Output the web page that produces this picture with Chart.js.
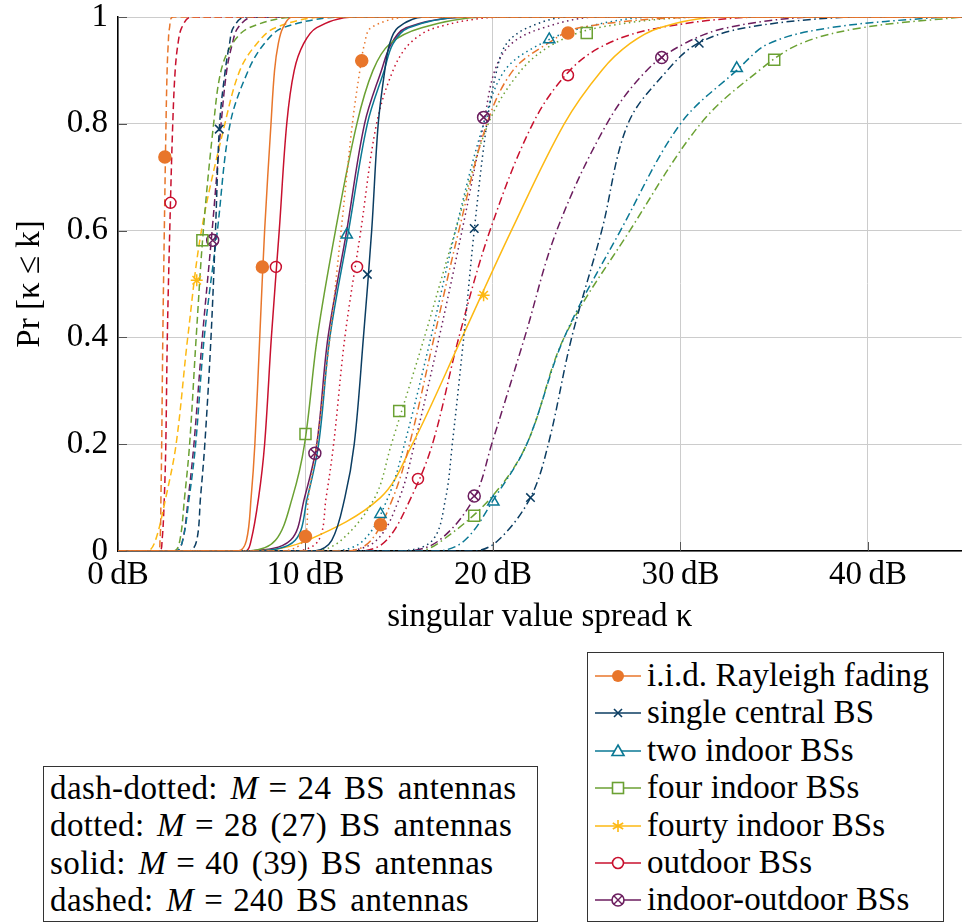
<!DOCTYPE html>
<html>
<head>
<meta charset="utf-8">
<script src="https://cdn.jsdelivr.net/npm/chart.js@4.4.1/dist/chart.umd.min.js"></script>
<style>
  body { margin: 0; background: #fff; width: 971px; height: 924px; position: relative; overflow: hidden;
         font-family: "Liberation Serif", "Times New Roman", serif; color: #000; }
  #plot { position: absolute; left: 0; top: 0; }
  .box { position: absolute; border: 1px solid #333; background: #fff; font-size: 33px; box-sizing: border-box; }
  .row { height: 37.4px; line-height: 37.4px; white-space: nowrap; position: relative; }
  .row svg { position: absolute; left: 7px; top: 8px; }
  .row .lbl { position: absolute; left: 59px; }
  .eq { margin: 0 10px; }
  #styles { left: 43px; top: 766px; width: 495px; height: 156px; padding: 3px 0 0 6px;
            letter-spacing: 0.4px; word-spacing: 4px; }
  #legend { left: 587px; top: 652px; width: 357px; height: 270px; padding: 4px 0 0 0; letter-spacing: 0.1px; }
</style>
</head>
<body>
<canvas id="plot" width="971" height="650"></canvas>
<div class="box" id="styles">
  <div class="row">dash-dotted: <i>M</i><span class="eq">=</span>24 BS antennas</div>
  <div class="row">dotted: <i>M</i><span class="eq">=</span>28 (27) BS antennas</div>
  <div class="row">solid: <i>M</i><span class="eq">=</span>40 (39) BS antennas</div>
  <div class="row">dashed: <i>M</i><span class="eq">=</span>240 BS antennas</div>
</div>
<div class="box" id="legend"></div>
<script>
// probability levels at which the x position (dB) of every curve was read
const levels = [0, 0.02, 0.1, 0.2, 0.4, 0.6, 0.8, 0.9, 0.95, 0.98, 1];

// dashed: M = 240
const iidDashed     = [2.10, 2.24, 2.29, 2.33, 2.39, 2.47, 2.56, 2.62, 2.68, 2.75, 2.95];
const singleDashed  = [3.80, 4.20, 4.40, 4.63, 4.96, 5.20, 5.42, 5.72, 5.95, 6.15, 6.80];
const twoDashed     = [3.10, 3.45, 3.80, 4.14, 4.60, 5.30, 5.98, 6.95, 7.80, 8.80, 12.0];
const fourDashed    = [3.00, 3.30, 3.55, 3.82, 4.17, 4.55, 5.10, 5.50, 6.10, 7.00, 9.50];
const fourtyDashed  = [1.60, 2.00, 2.55, 3.10, 3.72, 4.45, 5.70, 6.50, 7.40, 8.40, 11.0];
const outdoorDashed = [2.20, 2.35, 2.47, 2.55, 2.63, 2.76, 2.92, 3.05, 3.20, 3.40, 3.90];
const mixedDashed   = [3.10, 3.45, 3.75, 4.05, 4.50, 5.02, 5.50, 5.80, 6.10, 6.40, 7.20];

// solid: M = 40 (39)
const iidSolid      = [6.40, 6.85, 7.10, 7.30, 7.56, 7.82, 8.16, 8.35, 8.55, 8.80, 9.30];
const singleSolid   = [10.5, 11.4, 12.1, 12.6, 13.09, 13.53, 13.88, 14.23, 14.49, 14.93, 16.3];
const twoSolid      = [7.50, 9.45, 10.1, 10.7, 11.3, 12.3, 13.3, 14.2, 14.67, 15.5, 18.5];
const fourSolid     = [7.00, 8.40, 9.30, 9.95, 10.63, 11.6, 12.74, 13.6, 14.5, 16.2, 19.5];
const fourtySolid   = [7.50, 10.1, 14.0, 15.7, 18.35, 20.98, 23.8, 25.8, 27.3, 28.9, 32.0];
const outdoorSolid  = [6.80, 7.10, 7.50, 7.82, 8.18, 8.60, 9.00, 9.40, 9.90, 10.6, 12.5];
const mixedSolid    = [7.00, 9.20, 9.95, 10.6, 11.2, 12.2, 13.15, 14.05, 14.58, 15.37, 18.5];

// dotted: M = 28 (27)
const iidDotted     = [8.80, 9.90, 10.15, 10.6, 11.3, 11.9, 12.5, 12.9, 13.15, 13.5, 15.5];
const singleDotted  = [15.0, 16.77, 17.48, 17.83, 18.44, 19.0, 19.67, 20.2, 20.72, 21.86, 24.0];
const twoDotted     = [11.5, 13.1, 14.4, 15.28, 16.69, 18.0, 19.5, 20.63, 22.56, 24.8, 28.5];
const fourDotted    = [10.5, 11.9, 13.7, 14.58, 16.34, 18.0, 19.75, 21.5, 23.26, 25.6, 31.0];
const outdoorDotted = [9.50, 10.7, 11.1, 11.5, 12.1, 12.95, 13.79, 14.67, 15.55, 16.95, 20.5];
const mixedDotted   = [12.0, 13.79, 15.02, 15.81, 17.13, 18.35, 19.5, 20.1, 20.98, 22.7, 25.5];

// dash-dotted: M = 24
const iidDashDot     = [12.3, 13.5, 14.67, 15.55, 16.86, 18.18, 19.67, 21.07, 22.9, 24.6, 31.0];
const singleDashDot  = [19.0, 20.28, 22.0, 22.95, 24.2, 25.8, 27.2, 29.3, 30.9, 33.5, 39.0];
const twoDashDot     = [17.0, 18.5, 20.1, 21.8, 23.8, 26.8, 30.0, 33.0, 34.7, 38.0, 44.0];
const fourDashDot    = [16.0, 17.3, 19.9, 21.8, 23.8, 27.3, 31.07, 34.2, 36.4, 39.7, 45.0];
const outdoorDashDot = [13.0, 14.32, 15.63, 16.77, 18.18, 19.84, 22.12, 24.1, 26.1, 28.9, 34.0];
const mixedDashDot   = [15.4, 17.13, 19.0, 19.93, 21.69, 23.4, 26.07, 28.2, 30.2, 32.5, 37.0];

// marker positions [dB, probability]
const marks = {
  iidDashed: [[2.5, 0.738]], iidSolid: [[7.7, 0.532]],
  iidDotted: [[10.0, 0.027], [13.0, 0.918]], iidDashDot: [[14.0, 0.049], [24.0, 0.97]],
  singleDashed: [[5.4, 0.79]], singleSolid: [[13.3, 0.518]],
  singleDotted: [[19.0, 0.604]], singleDashDot: [[22.0, 0.10], [31.0, 0.951]],
  twoSolid: [[12.2, 0.592]], twoDotted: [[14.0, 0.069], [23.0, 0.958]],
  twoDashDot: [[20.02, 0.092], [33.0, 0.904]],
  fourDashed: [[4.5, 0.582]], fourSolid: [[10.0, 0.219]],
  fourDotted: [[15.0, 0.262], [25.0, 0.97]], fourDashDot: [[19.0, 0.066], [35.0, 0.92]],
  fourtyDashed: [[4.2, 0.507]], fourtySolid: [[19.5, 0.479]],
  outdoorDashed: [[2.8, 0.652]], outdoorSolid: [[8.42, 0.532]],
  outdoorDotted: [[12.75, 0.532]], outdoorDashDot: [[16.0, 0.135], [24.0, 0.891]],
  mixedDashed: [[5.05, 0.582]], mixedSolid: [[10.5, 0.183]],
  mixedDotted: [[19.5, 0.812]], mixedDashDot: [[19.0, 0.103], [29.0, 0.924]]
};

const scenarios = [
  { key: 'iid', label: 'i.i.d. Rayleigh fading', color: '#E8762B', mark: 'dot' },
  { key: 'single', label: 'single central BS', color: '#0B3D62', mark: 'cross' },
  { key: 'two', label: 'two indoor BSs', color: '#0A7894', mark: 'triangle' },
  { key: 'four', label: 'four indoor BSs', color: '#6BA133', mark: 'square' },
  { key: 'fourty', label: 'fourty indoor BSs', color: '#FDB913', mark: 'star' },
  { key: 'outdoor', label: 'outdoor BSs', color: '#C8102E', mark: 'circle' },
  { key: 'mixed', label: 'indoor-outdoor BSs', color: '#6B1D5E', mark: 'otimes' }
];

const curves = {
  iidDashed, singleDashed, twoDashed, fourDashed, fourtyDashed, outdoorDashed, mixedDashed,
  iidSolid, singleSolid, twoSolid, fourSolid, fourtySolid, outdoorSolid, mixedSolid,
  iidDotted, singleDotted, twoDotted, fourDotted, outdoorDotted, mixedDotted,
  iidDashDot, singleDashDot, twoDashDot, fourDashDot, outdoorDashDot, mixedDashDot
};

const dashes = { Dashed: [7, 4], Solid: [], Dotted: [1.5, 3.5], DashDot: [8, 3.5, 1.5, 3.5] };

function toPoints(xs) {
  const pts = [{ x: 0, y: 0 }];
  xs.forEach((x, i) => pts.push({ x: x, y: levels[i] }));
  if (xs[xs.length - 1] < 45) pts.push({ x: 45, y: 1 });
  return pts;
}

function markStyles(mark) {
  switch (mark) {
    case 'dot': return [{ pointStyle: 'circle', r: 6, fill: true }];
    case 'cross': return [{ pointStyle: 'crossRot', r: 6 }];
    case 'triangle': return [{ pointStyle: 'triangle', r: 6.5 }];
    case 'square': return [{ pointStyle: 'rect', r: 7.8 }];
    case 'star': return [{ pointStyle: 'star', r: 6 }];
    case 'circle': return [{ pointStyle: 'circle', r: 5.5 }];
    case 'otimes': return [{ pointStyle: 'circle', r: 6 }, { pointStyle: 'crossRot', r: 6 }];
  }
}

const datasets = [];
scenarios.forEach(s => {
  Object.keys(dashes).forEach(style => {
    const name = s.key + style;
    if (!curves[name]) return;
    datasets.push({
      data: toPoints(curves[name]),
      borderColor: s.color, borderWidth: 1.5, borderDash: dashes[style],
      borderCapStyle: 'butt', pointRadius: 0, tension: 0.35,
      fill: false, order: 2
    });
    if (marks[name]) {
      markStyles(s.mark).forEach(m => {
        datasets.push({
          data: marks[name].map(([x, y]) => ({ x, y })),
          showLine: false, pointStyle: m.pointStyle, pointRadius: m.r,
          pointBorderWidth: 1.5, borderColor: s.color,
          backgroundColor: m.fill ? s.color : 'rgba(0,0,0,0)', order: 1
        });
      });
    }
  });
});

const serif = '"Liberation Serif", "Times New Roman", serif';

const innerTicks = {
  id: 'innerTicks',
  beforeDatasetsDraw(chart) {
    const { ctx, chartArea: a, scales: { x, y } } = chart;
    ctx.save();
    ctx.strokeStyle = '#555';
    ctx.lineWidth = 1;
    ctx.beginPath();
    x.ticks.forEach(t => {
      const px = Math.round(x.getPixelForValue(t.value)) + 0.5;
      ctx.moveTo(px, a.bottom); ctx.lineTo(px, a.bottom - 9);
    });
    y.ticks.forEach(t => {
      const py = Math.round(y.getPixelForValue(t.value)) + 0.5;
      ctx.moveTo(a.left, py); ctx.lineTo(a.left + 9, py);
    });
    ctx.stroke();
    ctx.restore();
  }
};

new Chart(document.getElementById('plot'), {
  type: 'line',
  data: { datasets },
  options: {
    responsive: false, animation: false, devicePixelRatio: 1,
    layout: { padding: { top: 17, right: 0, bottom: 0, left: 0 } },
    plugins: { legend: { display: false }, tooltip: { enabled: false } },
    scales: {
      x: {
        type: 'linear', min: 0, max: 45,
        ticks: { stepSize: 10, includeBounds: false, autoSkip: false, maxRotation: 0,
                 callback: v => v + '\u2009dB', color: '#000', padding: 5,
                 font: { family: serif, size: 33 } },
        grid: { color: '#cccccc', lineWidth: 1, drawTicks: false },
        border: { color: '#000', width: 1.5 },
        title: { display: true, text: 'singular value spread κ', color: '#000',
                 font: { family: serif, size: 33 }, padding: { top: 0, bottom: 13 } },
        afterFit: s => { s.height = 99; s.paddingLeft = 0; s.paddingRight = 0; }
      },
      y: {
        type: 'linear', min: 0, max: 1,
        ticks: { stepSize: 0.2, color: '#000', padding: 10, callback: v => String(+v.toFixed(1)),
                 font: { family: serif, size: 33 } },
        grid: { color: '#cccccc', lineWidth: 1, drawTicks: false },
        border: { color: '#000', width: 1.5 },
        title: { display: true, text: 'Pr [κ ≤ k]', color: '#000',
                 font: { family: serif, size: 33 }, padding: { top: 11, bottom: 0 } },
        afterFit: s => { s.width = 118; s.paddingTop = 0; s.paddingBottom = 0; }
      }
    }
  },
  plugins: [innerTicks]
});

// legend box with line + marker symbols
const legend = document.getElementById('legend');
scenarios.forEach(s => {
  const c = s.color;
  let m = '';
  if (s.mark === 'dot') m = `<circle cx="23" cy="11" r="6" fill="${c}"/>`;
  if (s.mark === 'cross') m = `<path d="M19 7L27 15M27 7L19 15" stroke="${c}" stroke-width="1.6"/>`;
  if (s.mark === 'triangle') m = `<path d="M23 5L29 15.5L17 15.5Z" fill="#fff" stroke="${c}" stroke-width="1.6"/>`;
  if (s.mark === 'square') m = `<rect x="17.5" y="5.5" width="11" height="11" fill="#fff" stroke="${c}" stroke-width="1.6"/>`;
  if (s.mark === 'star') m = `<path d="M23 5V17M17.8 8L28.2 14M17.8 14L28.2 8" stroke="${c}" stroke-width="1.6"/>`;
  if (s.mark === 'circle') m = `<circle cx="23" cy="11" r="5.5" fill="#fff" stroke="${c}" stroke-width="1.6"/>`;
  if (s.mark === 'otimes') m = `<circle cx="23" cy="11" r="6" fill="#fff" stroke="${c}" stroke-width="1.6"/><path d="M18.8 6.8L27.2 15.2M27.2 6.8L18.8 15.2" stroke="${c}" stroke-width="1.4"/>`;
  const row = document.createElement('div');
  row.className = 'row';
  row.innerHTML = `<svg width="46" height="22"><line x1="0" y1="11" x2="46" y2="11" stroke="${c}" stroke-width="1.5"/>${m}</svg><span class="lbl">${s.label}</span>`;
  legend.appendChild(row);
});
</script>
</body>
</html>
